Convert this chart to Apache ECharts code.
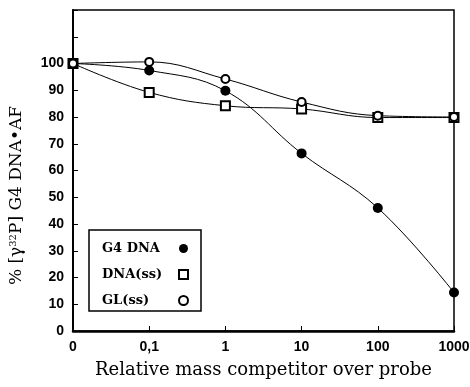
<!DOCTYPE html>
<html>
<head>
<meta charset="utf-8">
<script src="https://cdn.jsdelivr.net/npm/echarts@6/dist/echarts.min.js"></script>
<style>
  html, body { margin: 0; padding: 0; background: #fff; }
  #chart { width: 470px; height: 387px; }
</style>
</head>
<body>
<div id="chart"></div>
<script>
// competitor / probe ratios (categorical, evenly spaced)
const categories = ['0', '0,1', '1', '10', '100', '1000'];
const g4Dna = [100, 97.4, 89.8, 66.4, 46, 14.4];
const dnaSs = [100, 89.2, 84.2, 83, 79.8, 79.8];
const glSs = [100, 100.6, 94.2, 85.6, 80.5, 80];
const yTickLabels = ['0', '10', '20', '30', '40', '50', '60', '70', '80', '90', '100'];

const sansBold = { fontFamily: 'Liberation Sans', fontWeight: 'bold', fontSize: 14, color: '#000' };
const serif = 'DejaVu Serif';

const chart = echarts.init(document.getElementById('chart'));

function lineSeries(name, data, symbol, filled, size) {
    return {
        name: name,
        type: 'line',
        data: data,
        smooth: 0.4,
        symbol: symbol,
        symbolSize: size,
        showAllSymbol: true,
        z: filled ? 3 : 4,
        lineStyle: { color: '#000', width: 1 },
        itemStyle: {
            color: filled ? '#000' : '#fff',
            borderColor: '#000',
            borderWidth: filled ? 0 : 2
        },
        emphasis: { disabled: true }
    };
}

const option = {
    backgroundColor: '#fff',
    animation: false,
    grid: {
        left: 73, right: 16, top: 10, bottom: 56,
        outerBoundsMode: 'none',
        show: true, borderColor: '#000', borderWidth: 1.5
    },
    legend: {
        orient: 'vertical',
        left: 89, top: 230,
        align: 'right',
        borderColor: '#000', borderWidth: 1.5,
        padding: [12, 12, 4, 13],
        itemGap: 13,
        itemWidth: 9, itemHeight: 9,
        formatter: function (name) { return '{t|' + name + '}'; },
        textStyle: {
            color: '#000',
            rich: {
                t: { fontFamily: serif, fontWeight: 'bold', fontSize: 13, color: '#000', width: 72, align: 'left' }
            }
        },
        data: [
            { name: 'G4 DNA', icon: 'circle' },
            { name: 'DNA(ss)', icon: 'rect' },
            { name: 'GL(ss)', icon: 'circle' }
        ]
    },
    xAxis: {
        type: 'category',
        data: categories,
        boundaryGap: false,
        axisLine: { lineStyle: { color: '#000', width: 2.5 } },
        axisTick: { inside: true, length: 5, lineStyle: { color: '#000', width: 1 } },
        axisLabel: Object.assign({ margin: 9 }, sansBold),
        name: 'Relative mass competitor over probe',
        nameLocation: 'middle',
        nameGap: 30,
        nameTextStyle: { fontFamily: serif, fontSize: 18, color: '#000' }
    },
    yAxis: {
        type: 'value',
        min: 0, max: 120, interval: 10,
        splitLine: { show: false },
        axisLine: { show: true, lineStyle: { color: '#000', width: 2 } },
        axisTick: { show: true, inside: true, length: 5, lineStyle: { color: '#000', width: 1 } },
        axisLabel: Object.assign({
            margin: 9,
            formatter: function (v) {
                const s = String(v);
                return yTickLabels.indexOf(s) >= 0 ? s : '';
            }
        }, sansBold),
        name: '% [\u03b3{sup|32}P] G4 DNA\u2022AF',
        nameLocation: 'middle',
        nameRotate: 90,
        nameGap: 47,
        nameTextStyle: {
            fontFamily: serif, fontSize: 17, color: '#000',
            padding: [0, 50, 0, 0],
            rich: {
                sup: { fontFamily: serif, fontSize: 10, color: '#000', verticalAlign: 'top', padding: [0, 0, 8, 0] }
            }
        }
    },
    series: [
        lineSeries('G4 DNA', g4Dna, 'circle', true, 10),
        lineSeries('DNA(ss)', dnaSs, 'rect', false, 9),
        lineSeries('GL(ss)', glSs, 'circle', false, 8)
    ]
};

chart.setOption(option);
</script>
</body>
</html>
